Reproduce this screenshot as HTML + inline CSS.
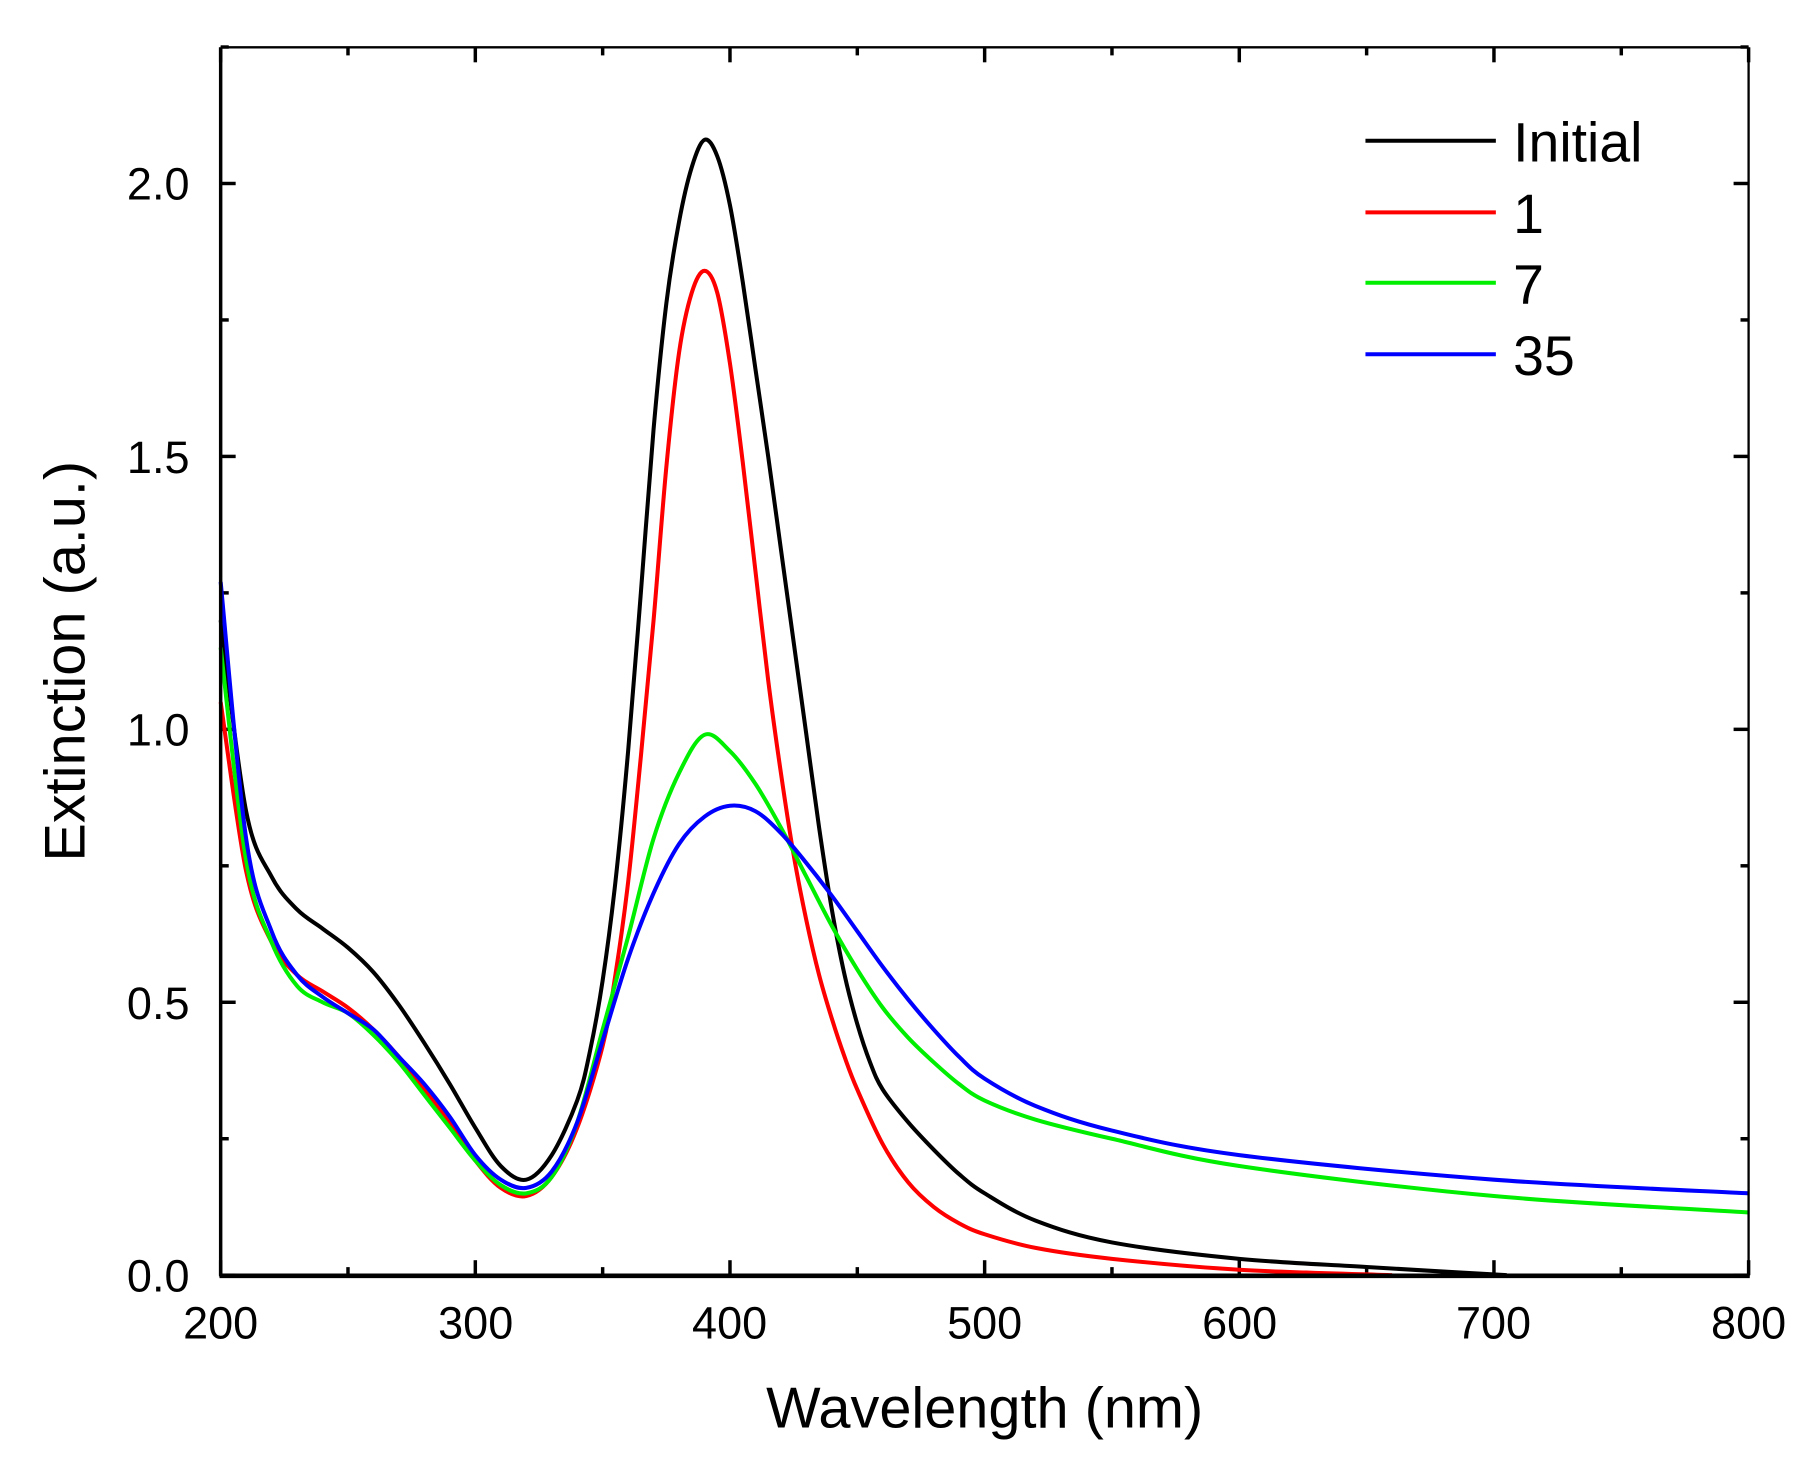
<!DOCTYPE html>
<html><head><meta charset="utf-8"><style>
html,body{margin:0;padding:0;background:#fff;}
svg{display:block;}
text{font-family:"Liberation Sans",Arial,sans-serif;fill:#000;}
</style></head><body>
<svg id="s" width="1810" height="1476" viewBox="0 0 1568 1279" xmlns="http://www.w3.org/2000/svg">
<rect width="1568" height="1279" fill="#fff"/>
<g id="ticks" stroke="#000" stroke-width="3"></g>
<g id="curves" fill="none" stroke-width="3.5" stroke-linejoin="round"></g>
<line x1="191" y1="41" x2="1515" y2="41" stroke="#000" stroke-width="2"/>
<line x1="1515" y1="41" x2="1515" y2="1106" stroke="#000" stroke-width="2"/>
<line x1="191" y1="41" x2="191" y2="1106" stroke="#000" stroke-width="3"/>
<line x1="190" y1="1105.5" x2="1516" y2="1105.5" stroke="#000" stroke-width="4"/>
<g font-size="39" text-anchor="middle">
<text x="191" y="1160">200</text><text x="412" y="1160">300</text><text x="632" y="1160">400</text>
<text x="853" y="1160">500</text><text x="1074" y="1160">600</text><text x="1294" y="1160">700</text><text x="1515" y="1160">800</text>
</g>
<g font-size="39" text-anchor="end">
<text x="164" y="1119">0.0</text><text x="164" y="883">0.5</text><text x="164" y="646">1.0</text>
<text x="164" y="410">1.5</text><text x="164" y="173">2.0</text>
</g>
<text x="853" y="1237" font-size="50" text-anchor="middle">Wavelength (nm)</text>
<text transform="translate(73,573) rotate(-90)" font-size="50" text-anchor="middle">Extinction (a.u.)</text>
<g stroke-width="3.5">
<line x1="1183" y1="122" x2="1296" y2="122" stroke="#000"/>
<line x1="1183" y1="184" x2="1296" y2="184" stroke="#f00"/>
<line x1="1183" y1="245" x2="1296" y2="245" stroke="#0e0"/>
<line x1="1183" y1="307" x2="1296" y2="307" stroke="#00f"/>
</g>
<g font-size="48">
<text x="1311" y="140">Initial</text><text x="1311" y="202">1</text>
<text x="1311" y="263">7</text><text x="1311" y="325">35</text>
</g>
</svg>
<script>
var X=function(l){return 191+(l-200)*2.2067;},Y=function(v){return 1105-v*473;};
var tk=document.getElementById('ticks'),h='';
for(var l=200;l<=800;l+=50){var x=X(l),L=(l%100==0)?13:7;h+='<line x1="'+x+'" y1="1105" x2="'+x+'" y2="'+(1105-L)+'"/><line x1="'+x+'" y1="41" x2="'+x+'" y2="'+(41+L)+'"/>';}
for(var v=0;v<=2.25;v+=0.25){var y=Y(v),L=(Math.round(v*4)%2==0)?13:7;h+='<line x1="191" y1="'+y+'" x2="'+(191+L)+'" y2="'+y+'"/><line x1="1515" y1="'+y+'" x2="'+(1515-L)+'" y2="'+y+'"/>';}
tk.innerHTML=h;
var D={
'#000':[[200,1.2],[210,0.85],[220,0.73],[230,0.67],[240,0.635],[250,0.6],[260,0.555],[270,0.495],[280,0.425],[290,0.35],[300,0.27],[310,0.2],[320,0.175],[330,0.22],[340,0.32],[345,0.41],[350,0.54],[355,0.72],[360,0.96],[365,1.25],[370,1.55],[375,1.78],[380,1.93],[385,2.03],[390,2.08],[395,2.05],[400,1.96],[405,1.82],[410,1.66],[415,1.5],[420,1.33],[425,1.16],[430,0.99],[435,0.82],[440,0.67],[445,0.55],[450,0.46],[455,0.39],[460,0.34],[470,0.28],[480,0.23],[490,0.185],[500,0.15],[520,0.1],[550,0.06],[600,0.03],[650,0.015],[705,0.0]],
'#f00':[[200,1.05],[210,0.74],[220,0.61],[230,0.55],[240,0.52],[250,0.49],[260,0.45],[270,0.4],[280,0.34],[290,0.28],[300,0.21],[310,0.16],[320,0.145],[330,0.18],[340,0.27],[350,0.42],[355,0.55],[360,0.72],[365,0.95],[370,1.2],[375,1.48],[380,1.69],[385,1.8],[390,1.84],[395,1.8],[400,1.67],[405,1.49],[410,1.29],[415,1.09],[420,0.92],[425,0.77],[430,0.65],[435,0.55],[440,0.47],[445,0.4],[450,0.34],[460,0.24],[470,0.17],[480,0.125],[490,0.095],[500,0.075],[520,0.05],[550,0.03],[600,0.01],[660,0.0]],
'#0e0':[[200,1.15],[210,0.76],[220,0.61],[230,0.53],[240,0.5],[250,0.48],[260,0.44],[270,0.39],[280,0.33],[290,0.27],[300,0.21],[310,0.165],[320,0.15],[330,0.18],[340,0.28],[350,0.45],[360,0.62],[370,0.8],[380,0.92],[390,0.99],[400,0.96],[410,0.9],[420,0.82],[430,0.73],[440,0.64],[450,0.56],[460,0.49],[470,0.435],[480,0.39],[490,0.35],[500,0.32],[520,0.285],[550,0.25],[600,0.2],[700,0.145],[800,0.115]],
'#00f':[[200,1.27],[210,0.8],[220,0.63],[230,0.55],[240,0.51],[250,0.48],[260,0.45],[270,0.4],[280,0.35],[290,0.29],[300,0.22],[310,0.175],[320,0.16],[330,0.19],[340,0.28],[350,0.43],[360,0.58],[370,0.7],[380,0.79],[390,0.84],[400,0.86],[410,0.85],[420,0.81],[430,0.755],[440,0.695],[450,0.63],[460,0.565],[470,0.505],[480,0.45],[490,0.4],[500,0.36],[520,0.31],[550,0.265],[600,0.22],[700,0.175],[800,0.15]]};
var c='';
for(var col in D){var p=D[col].map(function(a){return [X(a[0]),Y(a[1])];});
var d='M'+p[0][0]+','+p[0][1];
for(var i=0;i<p.length-1;i++){var p0=p[i>0?i-1:0],p1=p[i],p2=p[i+1],p3=p[i+2<p.length?i+2:i+1];
d+=' C'+(p1[0]+(p2[0]-p0[0])/6)+','+(p1[1]+(p2[1]-p0[1])/6)+' '+(p2[0]-(p3[0]-p1[0])/6)+','+(p2[1]-(p3[1]-p1[1])/6)+' '+p2[0]+','+p2[1];}
c+='<path d="'+d+'" stroke="'+col+'"/>';}
document.getElementById('curves').innerHTML=c;
</script>
</body></html>
